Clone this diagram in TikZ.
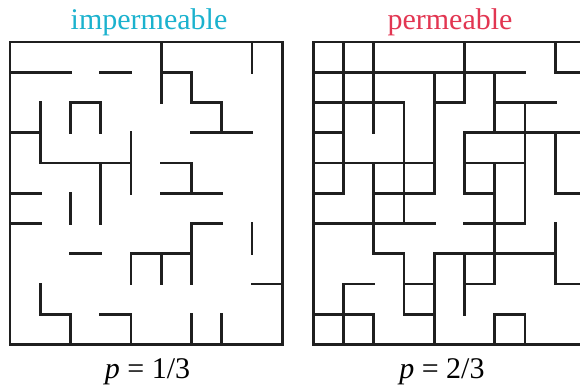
\documentclass[tikz,border=0pt]{standalone}
\usepackage{fontspec}
\setmainfont{Liberation Serif}
\definecolor{impcyan}{RGB}{27,178,206}
\definecolor{permred}{RGB}{226,54,82}

\begin{document}
\begin{tikzpicture}[
    x=15.125pt, y=-15.125pt,
    wall/.style={line width=1.4pt, line cap=rect, draw=black!88},
    title/.style={font=\fontsize{15}{18}\selectfont, anchor=base},
    plabel/.style={font=\fontsize{15}{18}\selectfont, anchor=base}
]

% Page frame
\useasboundingbox (-0.331,-1.388) rectangle (18.843,11.405);

% Impermeable maze
\draw[wall] (0,0) rectangle (9,10);
\foreach \j/\a/\b in {1/0/2, 1/3/4, 1/5/6, 2/2/3, 2/6/7, 3/0/1, 3/6/8,
                      4/1/4, 4/5/6, 5/0/1, 5/5/7, 6/0/1, 6/6/7, 7/2/3,
                      7/4/6, 8/8/9, 9/1/2, 9/3/4}
    \draw[wall] (\a,\j) -- (\b,\j);
\foreach \i/\a/\b in {5/0/2, 8/0/1, 6/1/2, 7/2/3, 1/2/4, 2/2/3, 3/2/3,
                      4/3/5, 3/4/6, 6/4/5, 2/5/6, 6/6/8, 8/6/7, 4/7/8,
                      5/7/8, 1/8/9, 2/9/10, 4/9/10, 6/9/10, 7/9/10}
    \draw[wall] (\i,\a) -- (\i,\b);

% Permeable maze (runs off the right edge)
\begin{scope}[shift={(10.026,0)}]
    \clip (-0.5,-0.5) rectangle (8.817,10.5);
    \draw[wall] (0,0) rectangle (9,10);
    \foreach \j/\a/\b in {1/0/7, 1/8/9, 2/0/3, 2/4/5, 2/6/8, 3/0/1, 3/5/9,
                          4/0/4, 4/5/7, 5/0/1, 5/2/4, 5/5/6, 5/8/9, 6/0/4,
                          6/5/7, 7/2/3, 7/4/8, 8/1/2, 8/3/4, 8/5/6, 8/8/9,
                          9/0/2, 9/3/4, 9/6/7}
        \draw[wall] (\a,\j) -- (\b,\j);
    \foreach \i/\a/\b in {1/0/5, 1/8/10, 2/0/3, 2/4/7, 2/9/10, 3/2/6, 3/7/9,
                          4/1/5, 4/7/10, 5/0/2, 5/3/5, 5/7/9, 6/1/3, 6/4/8,
                          6/9/10, 7/2/6, 7/9/10, 8/0/1, 8/3/5, 8/6/8}
        \draw[wall] (\i,\a) -- (\i,\b);
\end{scope}

% Labels
\node[title, text=impcyan] (imptitle) at (4.595,-0.397) {impermeable};
\node[title, text=permred] (permtitle) at (14.545,-0.397) {permeable};
\node[plabel] (impp) at (4.545,11.14) {\textit{p} = 1/3};
\node[plabel] (permp) at (14.28,11.14) {\textit{p} = 2/3};

\end{tikzpicture}
\end{document}
